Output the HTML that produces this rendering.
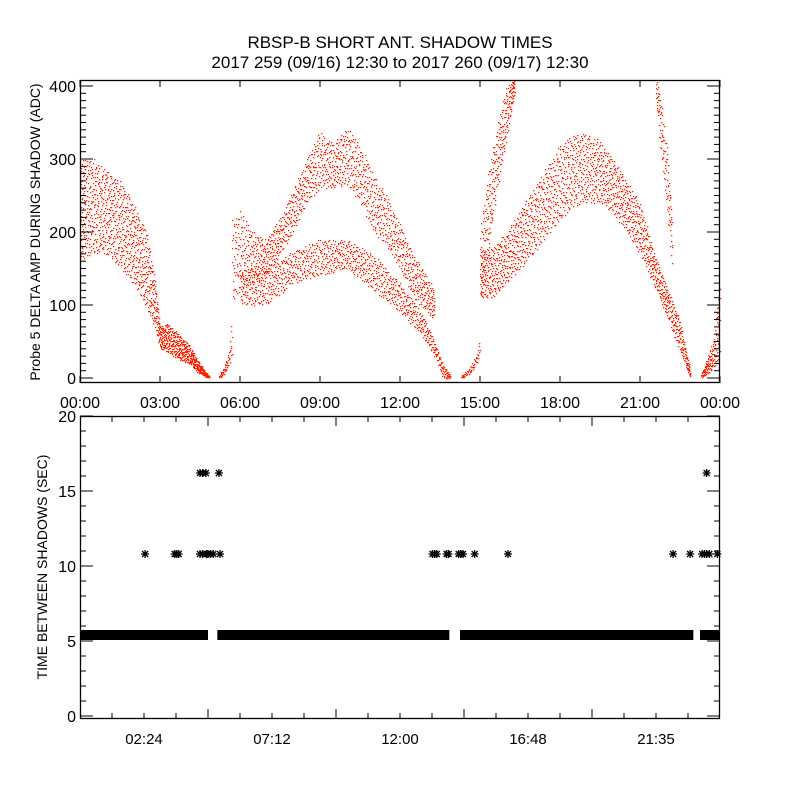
<!DOCTYPE html>
<html><head><meta charset="utf-8"><style>
body{margin:0;background:#fff}
svg{display:block;font-family:"Liberation Sans",sans-serif}
</style></head><body>
<svg id="chart" width="800" height="800" viewBox="0 0 800 800">
<rect width="800" height="800" fill="#fff"/>
<text x="400" y="48" font-size="17" text-anchor="middle">RBSP-B SHORT ANT. SHADOW TIMES</text>
<text x="400" y="68" font-size="17" text-anchor="middle">2017 259 (09/16) 12:30 to 2017 260 (09/17) 12:30</text>
<g id="topPanel"></g>
<g id="botPanel"></g>
</svg>
<script>
// ---- top panel data: bands of scatter (hour, low value, high value) ----
const bandA_t=[0,0.5,1,1.5,2,2.5,2.8,3.0,3.3,3.7,4.1,4.4,4.7,4.85];
const bandA_lo=[160,170,170,150,130,95,70,40,35,25,20,8,2,0];
const bandA_hi=[300,300,285,270,240,200,140,70,75,60,45,25,8,3];
const bandB_t=[5.2,5.4,5.6,5.7];
const bandB_lo=[0,5,20,30];
const bandB_hi=[3,15,40,100];
const bandC1_t=[5.7,6,6.5,7,7.5,8,8.5,9,9.5,10,10.5,11,11.5,12,12.5,13,13.3];
const bandC1_lo=[100,120,130,140,170,200,240,260,260,265,240,200,180,150,110,90,80];
const bandC1_hi=[220,230,200,190,220,260,300,340,320,345,320,280,250,210,170,140,120];
const bandC2_t=[6,7,8,9,10,11,12,12.8,13.3,13.6,13.9];
const bandC2_lo=[100,100,130,140,150,120,90,60,30,0,0];
const bandC2_hi=[150,150,175,190,190,170,130,90,50,20,3];
const bandD_t=[14.3,14.6,14.9,15.0];
const bandD_lo=[0,5,20,40];
const bandD_hi=[3,15,35,60];
const bandE_t=[15,15.3,15.6,16,16.3];
const bandE_lo=[100,170,250,330,390];
const bandE_hi=[200,280,340,400,410];
const bandF_t=[15,15.5,16,16.5,17,17.5,18,18.5,19,19.5,20,20.5,21,21.5,22,22.5,22.9];
const bandF_lo=[110,110,130,150,170,195,215,235,240,240,225,200,170,130,85,35,0];
const bandF_hi=[170,180,200,230,260,290,320,335,335,325,300,270,240,175,125,80,5];
const bandG_t=[21.6,21.8,22.0,22.2];
const bandG_lo=[380,300,230,150];
const bandG_hi=[410,380,320,220];
const bandH_t=[23.3,23.5,23.8,24];
const bandH_lo=[0,5,15,30];
const bandH_hi=[5,25,60,150];
const bandDensity=[1400,60,1300,1000,60,300,1700,120,150];
// ---- bottom panel data ----
const baseSegStart=[0,5.15,14.25,23.25];
const baseSegEnd=[4.8,13.85,23.0,24];
const baseValue=5.4;
const midHours=[2.44,3.55,3.62,3.7,4.5,4.6,4.75,4.8,4.9,5.0,5.25,13.22,13.3,13.38,13.75,13.82,14.2,14.28,14.36,14.8,16.05,22.24,22.88,23.33,23.42,23.5,23.6,23.9];
const midValue=10.8;
const highHours=[4.5,4.6,4.72,5.21,23.5];
const highValue=16.2;
const topTickLabels=["00:00","03:00","06:00","09:00","12:00","15:00","18:00","21:00","00:00"];
const topYTicks=[0,100,200,300,400];
const botXTickLabels=["02:24","07:12","12:00","16:48","21:35"];
const botYTicks=[0,5,10,15,20];

const NS="http://www.w3.org/2000/svg";
function mk(tag,attrs,parent){const e=document.createElementNS(NS,tag);for(const k in attrs)e.setAttribute(k,attrs[k]);parent.appendChild(e);return e;}
const X0=80,X1=720;
const xs=h=>X0+(X1-X0)*h/24;
const ysTop=v=>378-v*0.73;
const ysBot=v=>716-v*15;
const topG=document.getElementById('topPanel'),botG=document.getElementById('botPanel');

function halton(i,b){let f=1,r=0;while(i>0){f/=b;r+=f*(i%b);i=Math.floor(i/b);}return r;}
function interp(ts,vs,t){for(let i=0;i<ts.length-1;i++){if(t>=ts[i]&&t<=ts[i+1]){const f=(t-ts[i])/(ts[i+1]-ts[i]||1);return vs[i]+f*(vs[i+1]-vs[i]);}}return vs[vs.length-1];}
const bands=[[bandA_t,bandA_lo,bandA_hi],[bandB_t,bandB_lo,bandB_hi],[bandC1_t,bandC1_lo,bandC1_hi],[bandC2_t,bandC2_lo,bandC2_hi],[bandD_t,bandD_lo,bandD_hi],[bandE_t,bandE_lo,bandE_hi],[bandF_t,bandF_lo,bandF_hi],[bandG_t,bandG_lo,bandG_hi],[bandH_t,bandH_lo,bandH_hi]];
let d="";
bands.forEach((b,bi)=>{
  const [ts,lo,hi]=b,n=bandDensity[bi],t0=ts[0],t1=ts[ts.length-1];
  for(let i=1;i<=n;i++){
    const t=t0+(t1-t0)*halton(i+bi*7,2);
    const f=halton(i+bi*7,3);
    const l=interp(ts,lo,t),u=interp(ts,hi,t);
    const v=l+f*(u-l);
    const y=ysTop(v);if(y<80||y>383)continue;
    d+="M"+Math.round(xs(t))+" "+Math.round(y)+"h1.3v1.3h-1.3z";
  }
});
const dots=mk('path',{d:d,fill:'#ff2200'},topG);



// top axes
const tb=mk('rect',{x:80.5,y:80.5,width:639,height:302,fill:'none',stroke:'#000','stroke-width':1.3},topG);


for(let v=0;v<=400;v+=10){const y=ysTop(v),L=v%100===0?13:6;
  mk('line',{x1:80,x2:80+L,y1:y,y2:y,stroke:'#000'},topG);mk('line',{x1:720,x2:720-L,y1:y,y2:y,stroke:'#000'},topG);}
topYTicks.forEach(v=>{const t=mk('text',{x:76,y:ysTop(v)+6,'font-size':16,'text-anchor':'end'},topG);t.textContent=v;
  
  });
topTickLabels.forEach((s,i)=>{const x=xs(i*3);
  mk('line',{x1:x,x2:x,y1:80,y2:87,stroke:'#000'},topG);mk('line',{x1:x,x2:x,y1:383,y2:376,stroke:'#000'},topG);
  const t=mk('text',{x:x,y:408,'font-size':16,'text-anchor':'middle'},topG);t.textContent=s;
  
  });
const yl=mk('text',{x:0,y:0,'font-size':14,'text-anchor':'middle',transform:'translate(40,232) rotate(-90)'},topG);
yl.textContent="Probe 5 DELTA AMP DURING SHADOW (ADC)";



// bottom panel
const bb=mk('rect',{x:80.5,y:416.5,width:639,height:302,fill:'none',stroke:'#000','stroke-width':1.3},botG);


for(let v=0;v<=20;v++){const y=ysBot(v),L=v%5===0?13:6;
  mk('line',{x1:80,x2:80+L,y1:y,y2:y,stroke:'#000'},botG);mk('line',{x1:720,x2:720-L,y1:y,y2:y,stroke:'#000'},botG);}
botYTicks.forEach(v=>{const t=mk('text',{x:76,y:ysBot(v)+6,'font-size':16,'text-anchor':'end'},botG);t.textContent=v;
  
  });
for(let k=1;k<20;k++){const x=xs(k*1.2),L=k%4===0?10:6;
  mk('line',{x1:x,x2:x,y1:416,y2:416+L,stroke:'#000'},botG);mk('line',{x1:x,x2:x,y1:719,y2:719-L,stroke:'#000'},botG);}
botXTickLabels.forEach((s,i)=>{const t=mk('text',{x:xs((i*4+2)*1.2),y:744,'font-size':15,'text-anchor':'middle'},botG);t.textContent=s;
  
  });
const yl2=mk('text',{x:0,y:0,'font-size':14,'text-anchor':'middle',transform:'translate(47,567) rotate(-90)'},botG);
yl2.textContent="TIME BETWEEN SHADOWS (SEC)";



baseSegStart.forEach((s,i)=>{const x0=xs(s),x1=Math.min(xs(baseSegEnd[i]),720);
  const r=mk('rect',{x:x0,y:ysBot(baseValue)-5,width:x1-x0,height:10,fill:'#000'},botG);
  
  });
function star(h,v){const cx=xs(h),cy=ysBot(v),s=4;
  const g=mk('path',{d:`M${cx-s} ${cy}h${2*s}M${cx} ${cy-s}v${2*s}M${cx-s*0.75} ${cy-s*0.75}l${1.5*s} ${1.5*s}M${cx-s*0.75} ${cy+s*0.75}l${1.5*s} ${-1.5*s}`,stroke:'#000','stroke-width':1.3,fill:'none'},botG);
  
  }
midHours.forEach(h=>star(h,midValue));
highHours.forEach(h=>star(h,highValue));
</script>
</body></html>
